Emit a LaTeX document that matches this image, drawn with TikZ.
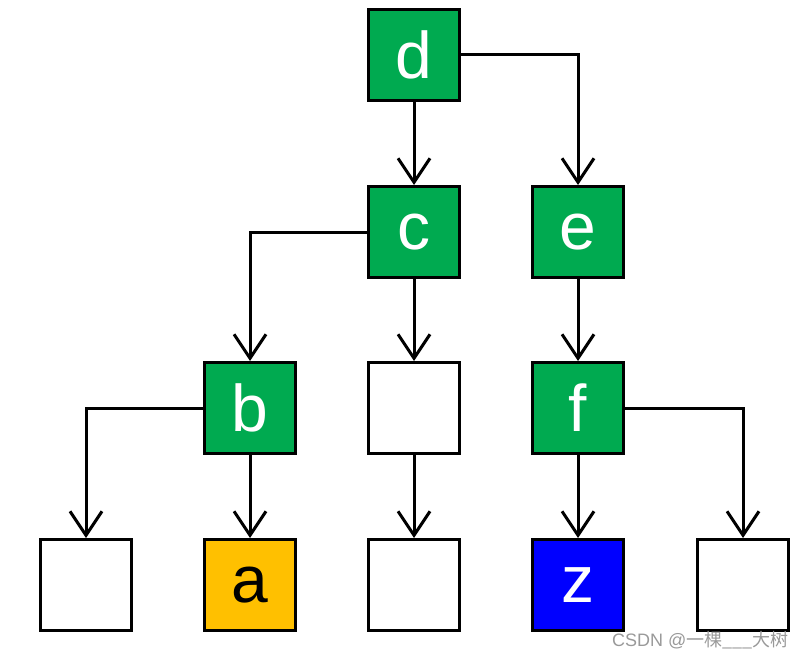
\documentclass[tikz,border=0pt]{standalone}
\usepackage{fontspec}
\setmainfont{Liberation Sans}
\newfontfamily\cjk{Noto Sans CJK SC}
\usetikzlibrary{arrows.meta}
\definecolor{treegreen}{RGB}{0,170,80}
\definecolor{treeorange}{RGB}{255,192,0}
\definecolor{treeblue}{RGB}{0,0,255}
\tikzset{
  box/.style={draw=black,line width=3pt,minimum size=91pt,inner sep=0pt,
    font=\fontsize{66}{66}\selectfont},
  gbox/.style={box,fill=treegreen,text=white},
}
\begin{document}
\begin{tikzpicture}[x=1pt,y=-1pt,>={Straight Barb[length=24pt,width=32pt,line width=3pt]},line width=3pt]
\useasboundingbox (0,0) rectangle (806,658);
\node[gbox] (D) at (414,55) {d};
\node[gbox] (C) at (414,232) {c};
\node[gbox] (E) at (578,232) {e};
\node[gbox] (B) at (250,408) {b};
\node[box,fill=white] (M) at (414,408) {};
\node[gbox] (F) at (578,408) {f};
\node[box,fill=white] (L1) at (86,585) {};
\node[box,fill=treeorange] (A) at (250,585) {a};
\node[box,fill=white] (L2) at (414,585) {};
\node[box,fill=treeblue,text=white] (Z) at (578,585) {z};
\node[box,fill=white] (L3) at (743,585) {};
\draw[->] (D) -- (C);
\draw[->] (D.east) -| (E.north);
\draw[->] (C.west) -| (B.north);
\draw[->] (C) -- (M);
\draw[->] (E) -- (F);
\draw[->] (B.west) -| (L1.north);
\draw[->] (B) -- (A);
\draw[->] (M) -- (L2);
\draw[->] (F) -- (Z);
\draw[->] (F.east) -| (L3.north);
\node[text=black!40,font=\fontsize{18}{18}\selectfont,anchor=east,inner sep=0pt] (wm) at (790,640) {CSDN @{\cjk 一棵\_\_\_大树}};
\end{tikzpicture}
\end{document}
